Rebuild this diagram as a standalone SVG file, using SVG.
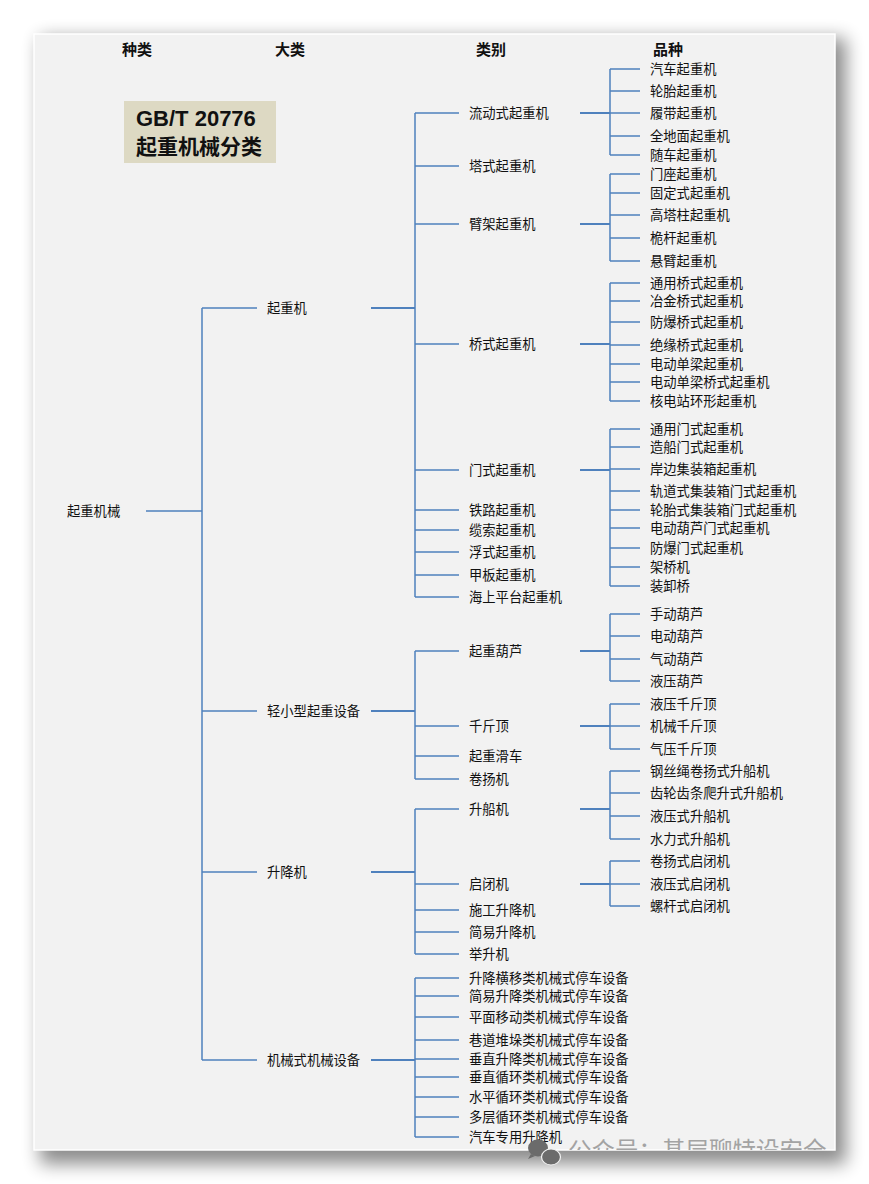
<svg xmlns="http://www.w3.org/2000/svg" width="869" height="1184" viewBox="0 0 869 1184">
<defs>
<filter id="shadow" x="-10%" y="-10%" width="120%" height="120%">
<feGaussianBlur stdDeviation="9"/>
</filter>
<clipPath id="panelClip"><rect x="34" y="34" width="801" height="1116"/></clipPath>
<style>
.c{fill:none;stroke:#4f81bd;stroke-width:1.5}
.s{fill:none;stroke:#4f81bd;stroke-width:2}
text{font-family:"Noto Sans CJK SC","Microsoft YaHei",sans-serif;fill:#111}
.t{font-size:13.3px}
.h{font-size:15px;font-weight:bold}
.tt{font-size:21px;font-weight:bold;fill:#111}
.tl{font-family:"Liberation Sans",Arial,sans-serif;font-size:22px;font-weight:bold;fill:#111}
.wm{font-size:23.5px;fill:#a3a3a3}
</style>
</defs>
<rect width="869" height="1184" fill="#fff"/>
<rect x="40" y="38" width="806" height="1126" fill="#000" opacity="0.45" filter="url(#shadow)"/>
<rect x="34" y="34" width="801" height="1116" fill="#f2f2f2" stroke="#fff" stroke-width="1.5"/>

<g id="headers">
<text class="h" x="122" y="55">种类</text>
<text class="h" x="275" y="55">大类</text>
<text class="h" x="476" y="55">类别</text>
<text class="h" x="653" y="55">品种</text>
</g>

<g id="title">
<rect x="124" y="101" width="152" height="62" fill="#ddd9c3"/>
<text class="tl" x="136" y="126">GB/T 20776</text>
<text class="tt" x="136" y="154">起重机械分类</text>
</g>

<g id="connectors">
<path class="c" d="M146 511H202M202 308V1060M202 308H257M202 711H257M202 872H257M202 1060H257"/>
<path class="s" d="M371 308H415M371 711H415M371 872H415M371 1060H415"/>
<path class="c" d="M415 113V597M415 113H459M415 166H459M415 224H459M415 344H459M415 470H459M415 510H459M415 530H459M415 552H459M415 575H459M415 597H459"/>
<path class="c" d="M415 651V779M415 651H459M415 726H459M415 756H459M415 779H459"/>
<path class="c" d="M415 809V954M415 809H459M415 884H459M415 910H459M415 932H459M415 954H459"/>
<path class="c" d="M415 978V1137M415 978H459M415 996H459M415 1017H459M415 1040H459M415 1059H459M415 1077H459M415 1097H459M415 1117H459M415 1137H459"/>
<path class="s" d="M580 113H610M580 224H610M580 344H610M580 470H610M580 651H610M580 726H610M580 809H610M580 884H610"/>
<path class="c" d="M610 69V155M610 69H640M610 91H640M610 113H640M610 136H640M610 155H640"/>
<path class="c" d="M610 174V261M610 174H640M610 193H640M610 215H640M610 238H640M610 261H640"/>
<path class="c" d="M610 283V401M610 283H640M610 301H640M610 322H640M610 345H640M610 364H640M610 382H640M610 401H640"/>
<path class="c" d="M610 429V586M610 429H640M610 447H640M610 469H640M610 491H640M610 510H640M610 528H640M610 548H640M610 567H640M610 586H640"/>
<path class="c" d="M610 614V681M610 614H640M610 636H640M610 659H640M610 681H640"/>
<path class="c" d="M610 704V749M610 704H640M610 726H640M610 749H640"/>
<path class="c" d="M610 771V839M610 771H640M610 793H640M610 816H640M610 839H640"/>
<path class="c" d="M610 861V906M610 861H640M610 884H640M610 906H640"/>
</g>

<g id="n-root"><text class="t" x="67" y="516">起重机械</text></g>

<g id="n-qzj"><text class="t" x="267" y="313">起重机</text></g>
<g id="n-qxx"><text class="t" x="267" y="716">轻小型起重设备</text></g>
<g id="n-sjj"><text class="t" x="267" y="877">升降机</text></g>
<g id="n-jxs"><text class="t" x="267" y="1065">机械式机械设备</text></g>

<g id="n-ldsqzj"><text class="t" x="469" y="118">流动式起重机</text></g>
<g id="n-tsqzj"><text class="t" x="469" y="171">塔式起重机</text></g>
<g id="n-bjqzj"><text class="t" x="469" y="229">臂架起重机</text></g>
<g id="n-qsqzj"><text class="t" x="469" y="349">桥式起重机</text></g>
<g id="n-msqzj"><text class="t" x="469" y="475">门式起重机</text></g>
<g id="n-tlqzj"><text class="t" x="469" y="515">铁路起重机</text></g>
<g id="n-lsqzj"><text class="t" x="469" y="535">缆索起重机</text></g>
<g id="n-fsqzj"><text class="t" x="469" y="557">浮式起重机</text></g>
<g id="n-jbqzj"><text class="t" x="469" y="580">甲板起重机</text></g>
<g id="n-hsptqzj"><text class="t" x="469" y="602">海上平台起重机</text></g>

<g id="n-qzhl"><text class="t" x="469" y="656">起重葫芦</text></g>
<g id="n-qjd"><text class="t" x="469" y="731">千斤顶</text></g>
<g id="n-qzhc"><text class="t" x="469" y="761">起重滑车</text></g>
<g id="n-jyj"><text class="t" x="469" y="784">卷扬机</text></g>

<g id="n-scj"><text class="t" x="469" y="814">升船机</text></g>
<g id="n-qbj"><text class="t" x="469" y="889">启闭机</text></g>
<g id="n-sgsjj"><text class="t" x="469" y="915">施工升降机</text></g>
<g id="n-jysjj"><text class="t" x="469" y="937">简易升降机</text></g>
<g id="n-jsj"><text class="t" x="469" y="959">举升机</text></g>

<g id="n-p1"><text class="t" x="469" y="983">升降横移类机械式停车设备</text></g>
<g id="n-p2"><text class="t" x="469" y="1001">简易升降类机械式停车设备</text></g>
<g id="n-p3"><text class="t" x="469" y="1022">平面移动类机械式停车设备</text></g>
<g id="n-p4"><text class="t" x="469" y="1045">巷道堆垛类机械式停车设备</text></g>
<g id="n-p5"><text class="t" x="469" y="1064">垂直升降类机械式停车设备</text></g>
<g id="n-p6"><text class="t" x="469" y="1082">垂直循环类机械式停车设备</text></g>
<g id="n-p7"><text class="t" x="469" y="1102">水平循环类机械式停车设备</text></g>
<g id="n-p8"><text class="t" x="469" y="1122">多层循环类机械式停车设备</text></g>
<g id="n-p9"><text class="t" x="469" y="1142">汽车专用升降机</text></g>

<g id="n-ld-children">
<text class="t" x="650" y="74">汽车起重机</text>
<text class="t" x="650" y="96">轮胎起重机</text>
<text class="t" x="650" y="118">履带起重机</text>
<text class="t" x="650" y="141">全地面起重机</text>
<text class="t" x="650" y="160">随车起重机</text>
</g>
<g id="n-bj-children">
<text class="t" x="650" y="179">门座起重机</text>
<text class="t" x="650" y="198">固定式起重机</text>
<text class="t" x="650" y="220">高塔柱起重机</text>
<text class="t" x="650" y="243">桅杆起重机</text>
<text class="t" x="650" y="266">悬臂起重机</text>
</g>
<g id="n-qs-children">
<text class="t" x="650" y="288">通用桥式起重机</text>
<text class="t" x="650" y="306">冶金桥式起重机</text>
<text class="t" x="650" y="327">防爆桥式起重机</text>
<text class="t" x="650" y="350">绝缘桥式起重机</text>
<text class="t" x="650" y="369">电动单梁起重机</text>
<text class="t" x="650" y="387">电动单梁桥式起重机</text>
<text class="t" x="650" y="406">核电站环形起重机</text>
</g>
<g id="n-ms-children">
<text class="t" x="650" y="434">通用门式起重机</text>
<text class="t" x="650" y="452">造船门式起重机</text>
<text class="t" x="650" y="474">岸边集装箱起重机</text>
<text class="t" x="650" y="496">轨道式集装箱门式起重机</text>
<text class="t" x="650" y="515">轮胎式集装箱门式起重机</text>
<text class="t" x="650" y="533">电动葫芦门式起重机</text>
<text class="t" x="650" y="553">防爆门式起重机</text>
<text class="t" x="650" y="572">架桥机</text>
<text class="t" x="650" y="591">装卸桥</text>
</g>
<g id="n-hl-children">
<text class="t" x="650" y="619">手动葫芦</text>
<text class="t" x="650" y="641">电动葫芦</text>
<text class="t" x="650" y="664">气动葫芦</text>
<text class="t" x="650" y="686">液压葫芦</text>
</g>
<g id="n-qjd-children">
<text class="t" x="650" y="709">液压千斤顶</text>
<text class="t" x="650" y="731">机械千斤顶</text>
<text class="t" x="650" y="754">气压千斤顶</text>
</g>
<g id="n-sc-children">
<text class="t" x="650" y="776">钢丝绳卷扬式升船机</text>
<text class="t" x="650" y="798">齿轮齿条爬升式升船机</text>
<text class="t" x="650" y="821">液压式升船机</text>
<text class="t" x="650" y="844">水力式升船机</text>
</g>
<g id="n-qb-children">
<text class="t" x="650" y="866">卷扬式启闭机</text>
<text class="t" x="650" y="889">液压式启闭机</text>
<text class="t" x="650" y="911">螺杆式启闭机</text>
</g>

<g id="watermark">
<g fill="#6b6b6b">
<ellipse cx="538" cy="1148" rx="10" ry="8.5"/>
<path d="M531 1154l-3 5 7-3z"/>
<ellipse cx="551" cy="1157" rx="9.5" ry="8" stroke="#f2f2f2" stroke-width="1.2"/>
</g>
<text class="wm" x="568" y="1159" clip-path="url(#panelClip)">公众号：基层聊特设安全</text>
</g>
</svg>
